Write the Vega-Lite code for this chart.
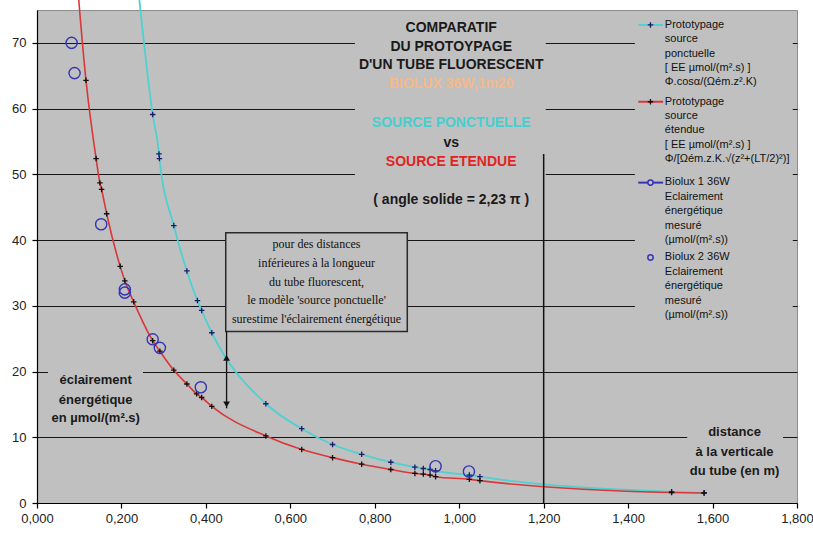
{
  "$schema": "https://vega.github.io/schema/vega-lite/v6.json",
  "width": 760,
  "height": 493,
  "autosize": {"type": "none"},
  "padding": {"left": 37, "top": 10, "right": 16, "bottom": 31},
  "background": "white",
  "config": {
    "view": {"fill": "#c0c0c0", "stroke": "#8c8c8c", "strokeWidth": 1},
    "font": "Liberation Sans"
  },
  "datasets": {
    "covers": [
      {"x0": 0.753, "x1": 1.205, "y0": 44.0, "y1": 74.6},
      {"x0": 1.416, "x1": 1.790, "y0": 27.0, "y1": 74.6},
      {"x0": 0.026, "x1": 0.251, "y0": 10.9, "y1": 21.5},
      {"x0": 1.540, "x1": 1.767, "y0": 3.5, "y1": 12.6}
    ],
    "titre": [
      {"t": "COMPARATIF", "y": 72.27, "role": "noir"},
      {"t": "DU PROTOYPAGE", "y": 69.39, "role": "noir"},
      {"t": "D'UN TUBE FLUORESCENT", "y": 66.66, "role": "noir"},
      {"t": "BIOLUX 36W,1m20", "y": 63.78, "role": "biolux"},
      {"t": "SOURCE PONCTUELLE", "y": 57.86, "role": "ponctuelle"},
      {"t": "vs", "y": 54.82, "role": "noir"},
      {"t": "SOURCE ETENDUE", "y": 51.94, "role": "etendue"},
      {"t": "( angle solide = 2,23 π )", "y": 46.16, "role": "noir"}
    ],
    "libelles": [
      {"t": "éclairement", "x": 0.139, "y": 18.68},
      {"t": "énergétique", "x": 0.139, "y": 15.64},
      {"t": "en µmol/(m².s)", "x": 0.139, "y": 12.91},
      {"t": "distance", "x": 1.652, "y": 10.78},
      {"t": "à la verticale", "x": 1.652, "y": 7.74},
      {"t": "du tube (en m)", "x": 1.652, "y": 4.86}
    ],
    "note": [
      {"t": "pour des distances", "y": 39.43},
      {"t": "inférieures à la longueur", "y": 36.55},
      {"t": "du tube fluorescent,", "y": 33.60},
      {"t": "le modèle 'source ponctuelle'", "y": 30.82},
      {"t": "surestime l'éclairement énergétique", "y": 27.94}
    ],
    "legende": [
      {"t": "Prototypage\nsource\nponctuelle\n[ EE µmol/(m².s) ]\nΦ.cosα/(Ωém.z².K)", "y": 73.82},
      {"t": "Prototypage\nsource\nétendue\n[ EE µmol/(m².s) ]\nΦ/[Ωém.z.K.√(z²+(LT/2)²)]", "y": 62.13},
      {"t": "Biolux 1 36W\nEclairement\nénergétique\nmesuré\n(µmol/(m².s))", "y": 49.83},
      {"t": "Biolux 2 36W\nEclairement\nénergétique\nmesuré\n(µmol/(m².s))", "y": 38.44}
    ],
    "modele": [
      {"modele": "ponctuelle", "distance": 0.229, "eclairement": 85.0},
      {"modele": "ponctuelle", "distance": 0.274, "eclairement": 59.1},
      {"modele": "ponctuelle", "distance": 0.289, "eclairement": 53.1},
      {"modele": "ponctuelle", "distance": 0.290, "eclairement": 52.4},
      {"modele": "ponctuelle", "distance": 0.324, "eclairement": 42.2},
      {"modele": "ponctuelle", "distance": 0.355, "eclairement": 35.3},
      {"modele": "ponctuelle", "distance": 0.380, "eclairement": 30.8},
      {"modele": "ponctuelle", "distance": 0.390, "eclairement": 29.3},
      {"modele": "ponctuelle", "distance": 0.414, "eclairement": 25.9},
      {"modele": "ponctuelle", "distance": 0.542, "eclairement": 15.1},
      {"modele": "ponctuelle", "distance": 0.627, "eclairement": 11.3},
      {"modele": "ponctuelle", "distance": 0.700, "eclairement": 8.9},
      {"modele": "ponctuelle", "distance": 0.769, "eclairement": 7.4},
      {"modele": "ponctuelle", "distance": 0.838, "eclairement": 6.2},
      {"modele": "ponctuelle", "distance": 0.895, "eclairement": 5.45},
      {"modele": "ponctuelle", "distance": 0.915, "eclairement": 5.25},
      {"modele": "ponctuelle", "distance": 0.931, "eclairement": 5.1},
      {"modele": "ponctuelle", "distance": 0.944, "eclairement": 4.9},
      {"modele": "ponctuelle", "distance": 1.024, "eclairement": 4.25},
      {"modele": "ponctuelle", "distance": 1.049, "eclairement": 4.0},
      {"modele": "ponctuelle", "distance": 1.503, "eclairement": 1.7},
      {"modele": "ponctuelle", "distance": 1.580, "eclairement": 1.55},
      {"modele": "etendue", "distance": 0.090, "eclairement": 83.5},
      {"modele": "etendue", "distance": 0.116, "eclairement": 64.3},
      {"modele": "etendue", "distance": 0.140, "eclairement": 52.4},
      {"modele": "etendue", "distance": 0.149, "eclairement": 48.7},
      {"modele": "etendue", "distance": 0.153, "eclairement": 47.7},
      {"modele": "etendue", "distance": 0.165, "eclairement": 44.0},
      {"modele": "etendue", "distance": 0.197, "eclairement": 36.0},
      {"modele": "etendue", "distance": 0.208, "eclairement": 33.8},
      {"modele": "etendue", "distance": 0.229, "eclairement": 30.6},
      {"modele": "etendue", "distance": 0.274, "eclairement": 24.7},
      {"modele": "etendue", "distance": 0.291, "eclairement": 23.1},
      {"modele": "etendue", "distance": 0.324, "eclairement": 20.2},
      {"modele": "etendue", "distance": 0.355, "eclairement": 18.1},
      {"modele": "etendue", "distance": 0.378, "eclairement": 16.6},
      {"modele": "etendue", "distance": 0.390, "eclairement": 16.05},
      {"modele": "etendue", "distance": 0.414, "eclairement": 14.7},
      {"modele": "etendue", "distance": 0.542, "eclairement": 10.2},
      {"modele": "etendue", "distance": 0.627, "eclairement": 8.15},
      {"modele": "etendue", "distance": 0.700, "eclairement": 6.9},
      {"modele": "etendue", "distance": 0.769, "eclairement": 5.9},
      {"modele": "etendue", "distance": 0.838, "eclairement": 5.1},
      {"modele": "etendue", "distance": 0.895, "eclairement": 4.5},
      {"modele": "etendue", "distance": 0.915, "eclairement": 4.4},
      {"modele": "etendue", "distance": 0.931, "eclairement": 4.25},
      {"modele": "etendue", "distance": 0.944, "eclairement": 4.0},
      {"modele": "etendue", "distance": 1.024, "eclairement": 3.6},
      {"modele": "etendue", "distance": 1.049, "eclairement": 3.4},
      {"modele": "etendue", "distance": 1.503, "eclairement": 1.6},
      {"modele": "etendue", "distance": 1.580, "eclairement": 1.52}
    ],
    "mesures": [
      {"mesure": "Biolux 1 36W", "distance": 0.082, "eclairement": 70.0},
      {"mesure": "Biolux 1 36W", "distance": 0.152, "eclairement": 42.4},
      {"mesure": "Biolux 1 36W", "distance": 0.208, "eclairement": 32.5},
      {"mesure": "Biolux 1 36W", "distance": 0.274, "eclairement": 24.9},
      {"mesure": "Biolux 1 36W", "distance": 0.388, "eclairement": 17.6},
      {"mesure": "Biolux 1 36W", "distance": 0.944, "eclairement": 5.6},
      {"mesure": "Biolux 2 36W", "distance": 0.089, "eclairement": 65.4},
      {"mesure": "Biolux 2 36W", "distance": 0.208, "eclairement": 32.0},
      {"mesure": "Biolux 2 36W", "distance": 0.291, "eclairement": 23.6},
      {"mesure": "Biolux 2 36W", "distance": 1.023, "eclairement": 4.8}
    ]
  },
  "layer": [
    {
      "data": {"name": "covers"},
      "mark": {"type": "rect", "fill": "#c0c0c0", "strokeWidth": 0},
      "encoding": {
        "x": {
          "field": "x0", "type": "quantitative",
          "scale": {"domain": [0, 1.8], "nice": false, "zero": false},
          "axis": {
            "title": null, "grid": false,
            "values": [0, 0.2, 0.4, 0.6, 0.8, 1.0, 1.2, 1.4, 1.6, 1.8],
            "labelExpr": "replace(format(datum.value, '.3f'), '.', ',')",
            "domainColor": "#000", "domainWidth": 1.2,
            "tickColor": "#000", "tickSize": 5, "tickWidth": 1.2,
            "labelFont": "Liberation Sans", "labelFontSize": 13, "labelColor": "#222",
            "labelPadding": 4, "labelFlush": false, "labelOverlap": false
          }
        },
        "x2": {"field": "x1"},
        "y": {
          "field": "y0", "type": "quantitative",
          "scale": {"domain": [0, 75], "nice": false, "zero": true},
          "axis": {
            "title": null, "grid": true, "gridColor": "#151515", "gridWidth": 1.2,
            "values": [0, 10, 20, 30, 40, 50, 60, 70],
            "domainColor": "#000", "domainWidth": 1.2,
            "tickColor": "#000", "tickSize": 5, "tickWidth": 1.2,
            "labelFont": "Liberation Sans", "labelFontSize": 13, "labelColor": "#222",
            "labelPadding": 6
          }
        },
        "y2": {"field": "y1"}
      }
    },
    {
      "data": {"values": [{}]},
      "mark": {"type": "rect", "fill": "#c0c0c0", "stroke": "#2a2a2a", "strokeWidth": 1.5},
      "encoding": {
        "x": {"datum": 0.447, "type": "quantitative"},
        "x2": {"datum": 0.877},
        "y": {"datum": 26.1, "type": "quantitative"},
        "y2": {"datum": 41.1}
      }
    },
    {
      "data": {"name": "titre"},
      "mark": {"type": "text", "font": "Liberation Sans", "fontWeight": "bold", "fontSize": 14, "align": "center", "baseline": "middle"},
      "encoding": {
        "x": {"datum": 0.981, "type": "quantitative"},
        "y": {"field": "y", "type": "quantitative"},
        "text": {"field": "t"},
        "color": {
          "field": "role", "type": "nominal", "legend": null,
          "scale": {"domain": ["noir", "biolux", "ponctuelle", "etendue"], "range": ["#1a1a1a", "#f5b98a", "#45cfcf", "#e02424"]}
        }
      }
    },
    {
      "data": {"name": "libelles"},
      "mark": {"type": "text", "font": "Liberation Sans", "fontWeight": "bold", "fontSize": 13, "align": "center", "baseline": "middle", "color": "#1a1a1a"},
      "encoding": {
        "x": {"field": "x", "type": "quantitative"},
        "y": {"field": "y", "type": "quantitative"},
        "text": {"field": "t"}
      }
    },
    {
      "data": {"name": "note"},
      "mark": {"type": "text", "font": "Liberation Serif", "fontSize": 12, "align": "center", "baseline": "middle", "color": "#111"},
      "encoding": {
        "x": {"datum": 0.662, "type": "quantitative"},
        "y": {"field": "y", "type": "quantitative"},
        "text": {"field": "t"}
      }
    },
    {
      "data": {"name": "legende"},
      "mark": {"type": "text", "font": "Liberation Sans", "fontSize": 11, "align": "left", "baseline": "line-top", "lineBreak": "\n", "lineHeight": 14.4, "color": "#111"},
      "encoding": {
        "x": {"datum": 1.487, "type": "quantitative"},
        "y": {"field": "y", "type": "quantitative"},
        "text": {"field": "t"}
      }
    },
    {
      "data": {"values": [{}]},
      "mark": {"type": "rule", "color": "#50d0d0", "strokeWidth": 2},
      "encoding": {"x": {"datum": 1.424, "type": "quantitative"}, "x2": {"datum": 1.483}, "y": {"datum": 72.73, "type": "quantitative"}}
    },
    {
      "data": {"values": [{}]},
      "mark": {"type": "rule", "color": "#d9383a", "strokeWidth": 2},
      "encoding": {"x": {"datum": 1.424, "type": "quantitative"}, "x2": {"datum": 1.483}, "y": {"datum": 61.04, "type": "quantitative"}}
    },
    {
      "data": {"values": [{}]},
      "mark": {"type": "rule", "color": "#3434b4", "strokeWidth": 2},
      "encoding": {"x": {"datum": 1.424, "type": "quantitative"}, "x2": {"datum": 1.483}, "y": {"datum": 48.74, "type": "quantitative"}}
    },
    {
      "data": {"values": [{}]},
      "mark": {"type": "point", "shape": "M-1,0L1,0M0,-1L0,1", "filled": false, "stroke": "#1b1b6e", "strokeWidth": 1.3, "size": 30, "opacity": 1},
      "encoding": {"x": {"datum": 1.453, "type": "quantitative"}, "y": {"datum": 72.73, "type": "quantitative"}}
    },
    {
      "data": {"values": [{}]},
      "mark": {"type": "point", "shape": "M-1,0L1,0M0,-1L0,1", "filled": false, "stroke": "#111", "strokeWidth": 1.3, "size": 30, "opacity": 1},
      "encoding": {"x": {"datum": 1.453, "type": "quantitative"}, "y": {"datum": 61.04, "type": "quantitative"}}
    },
    {
      "data": {"values": [{}]},
      "mark": {"type": "point", "shape": "circle", "filled": true, "fill": "#c0c0c0", "stroke": "#3434b4", "strokeWidth": 1.5, "size": 28, "opacity": 1},
      "encoding": {"x": {"datum": 1.453, "type": "quantitative"}, "y": {"datum": 48.74, "type": "quantitative"}}
    },
    {
      "data": {"values": [{}]},
      "mark": {"type": "point", "shape": "circle", "filled": false, "stroke": "#3434b4", "strokeWidth": 1.5, "size": 28, "opacity": 1},
      "encoding": {"x": {"datum": 1.453, "type": "quantitative"}, "y": {"datum": 37.35, "type": "quantitative"}}
    },
    {
      "data": {"name": "modele"},
      "transform": [{"filter": "datum.modele === 'ponctuelle'"}],
      "mark": {"type": "line", "color": "#50d0d0", "strokeWidth": 1.8, "interpolate": "monotone", "clip": false},
      "encoding": {
        "x": {"field": "distance", "type": "quantitative"},
        "y": {"field": "eclairement", "type": "quantitative"}
      }
    },
    {
      "data": {"name": "modele"},
      "transform": [{"filter": "datum.modele === 'etendue'"}],
      "mark": {"type": "line", "color": "#d9383a", "strokeWidth": 1.6, "interpolate": "monotone", "clip": false},
      "encoding": {
        "x": {"field": "distance", "type": "quantitative"},
        "y": {"field": "eclairement", "type": "quantitative"}
      }
    },
    {
      "data": {"name": "modele"},
      "transform": [{"filter": "datum.modele === 'ponctuelle'"}],
      "mark": {"type": "point", "shape": "M-1,0L1,0M0,-1L0,1", "filled": false, "stroke": "#1b1b6e", "strokeWidth": 1.3, "size": 30, "opacity": 1},
      "encoding": {
        "x": {"field": "distance", "type": "quantitative"},
        "y": {"field": "eclairement", "type": "quantitative"}
      }
    },
    {
      "data": {"name": "modele"},
      "transform": [{"filter": "datum.modele === 'etendue'"}],
      "mark": {"type": "point", "shape": "M-1,0L1,0M0,-1L0,1", "filled": false, "stroke": "#111", "strokeWidth": 1.3, "size": 30, "opacity": 1},
      "encoding": {
        "x": {"field": "distance", "type": "quantitative"},
        "y": {"field": "eclairement", "type": "quantitative"}
      }
    },
    {
      "data": {"name": "mesures"},
      "mark": {"type": "point", "shape": "circle", "filled": false, "stroke": "#3434b4", "strokeWidth": 1.4, "size": 125, "opacity": 1},
      "encoding": {
        "x": {"field": "distance", "type": "quantitative"},
        "y": {"field": "eclairement", "type": "quantitative"}
      }
    },
    {
      "data": {"values": [{}]},
      "mark": {"type": "rule", "color": "#111", "strokeWidth": 1.5},
      "encoding": {"x": {"datum": 1.2, "type": "quantitative"}, "y": {"datum": 0, "type": "quantitative"}, "y2": {"datum": 53.1}}
    },
    {
      "data": {"values": [{}]},
      "mark": {"type": "rule", "color": "#111", "strokeWidth": 1.3},
      "encoding": {"x": {"datum": 0.449, "type": "quantitative"}, "y": {"datum": 26.1, "type": "quantitative"}, "y2": {"datum": 14.4}}
    },
    {
      "data": {"values": [{}]},
      "mark": {"type": "point", "shape": "triangle-up", "filled": true, "color": "#111", "size": 45, "opacity": 1},
      "encoding": {"x": {"datum": 0.449, "type": "quantitative"}, "y": {"datum": 22.1, "type": "quantitative"}}
    },
    {
      "data": {"values": [{}]},
      "mark": {"type": "point", "shape": "triangle-down", "filled": true, "color": "#111", "size": 45, "opacity": 1},
      "encoding": {"x": {"datum": 0.449, "type": "quantitative"}, "y": {"datum": 15.0, "type": "quantitative"}}
    }
  ]
}
